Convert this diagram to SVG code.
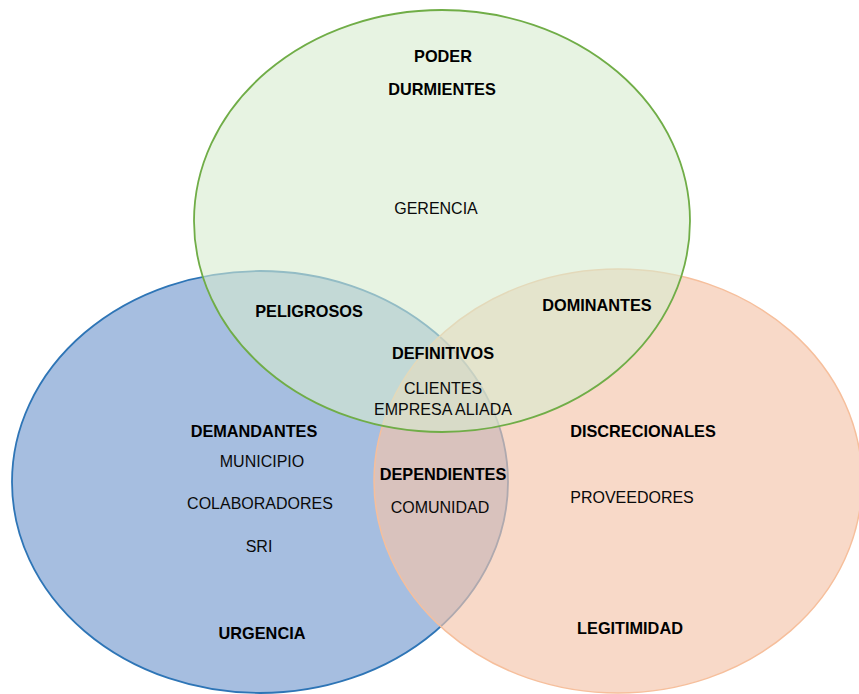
<svg xmlns="http://www.w3.org/2000/svg" width="859" height="694" viewBox="0 0 859 694">
<style>
.b{font-family:"Liberation Sans",Arial,sans-serif;font-weight:bold;font-size:16.3px;fill:#000;text-anchor:middle}
.r{font-family:"Liberation Sans",Arial,sans-serif;font-size:16px;fill:#0a0a0a;text-anchor:middle}
</style>
<rect width="859" height="694" fill="#ffffff"/>
<g id="set-urgencia">
<ellipse cx="260" cy="482" rx="248" ry="211" fill="#a6bee0" stroke="#2e75b6" stroke-width="1.8"/>
</g>
<g id="set-legitimidad">
<ellipse cx="618" cy="481" rx="244" ry="212" fill="#f5c5ab" fill-opacity="0.65" stroke="#f6bf9c" stroke-width="1.5"/>
</g>
<g id="set-poder">
<ellipse cx="442" cy="221" rx="248" ry="211" fill="#d7ebcf" fill-opacity="0.6" stroke="#70ad47" stroke-width="1.8"/>
</g>
<g id="labels">
<g id="poder"><text class="b" x="443" y="62">PODER</text></g>
<g id="durmientes"><text class="b" x="442" y="95">DURMIENTES</text></g>
<g id="gerencia"><text class="r" x="436" y="214">GERENCIA</text></g>
<g id="peligrosos"><text class="b" x="309" y="317">PELIGROSOS</text></g>
<g id="dominantes"><text class="b" x="597" y="311">DOMINANTES</text></g>
<g id="definitivos"><text class="b" x="443" y="359">DEFINITIVOS</text>
<text class="r" x="443" y="394">CLIENTES</text>
<text class="r" x="443" y="415">EMPRESA ALIADA</text></g>
<g id="demandantes"><text class="b" x="254" y="437">DEMANDANTES</text>
<text class="r" x="262" y="467">MUNICIPIO</text>
<text class="r" x="260" y="509">COLABORADORES</text>
<text class="r" x="259" y="552">SRI</text></g>
<g id="dependientes"><text class="b" x="443" y="480">DEPENDIENTES</text>
<text class="r" x="440" y="513">COMUNIDAD</text></g>
<g id="discrecionales"><text class="b" x="643" y="437">DISCRECIONALES</text>
<text class="r" x="632" y="503">PROVEEDORES</text></g>
<g id="urgencia"><text class="b" x="262" y="639">URGENCIA</text></g>
<g id="legitimidad"><text class="b" x="630" y="634">LEGITIMIDAD</text></g>
</g>
</svg>
